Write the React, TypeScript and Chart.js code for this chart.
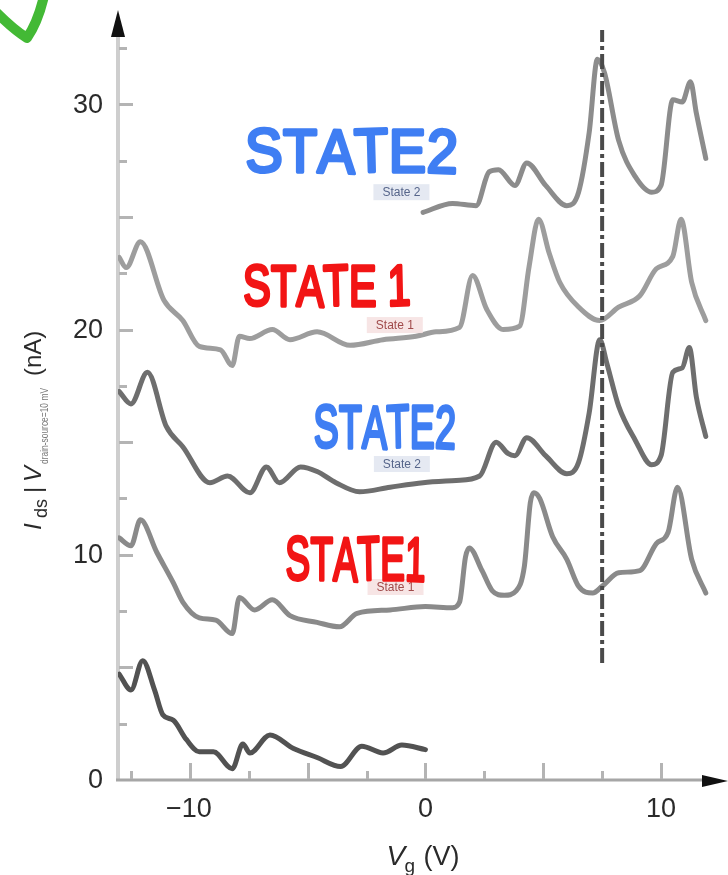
import React, { useEffect, useRef } from "react";
import { Chart, registerables } from "chart.js";

Chart.register(...registerables);

// ---------- axis ranges & tick labels ----------
const X_MIN = -13.05;
const X_MAX = 12.8;
const Y_MIN = 0;
const Y_MAX = 34.1;
const xTickLabels = [-10, 0, 10];
const yTickLabels = [0, 10, 20, 30];
const xMinorTicks = [-12.5, -10, -7.5, -5, -2.5, 0, 2.5, 5, 7.5, 10];
const yMinorTicks = [2.5, 5, 7.5, 10, 12.5, 15, 17.5, 20, 22.5, 25, 27.5, 30, 32.5];

// ---------- series (Vg in V, current in nA) ----------
// top trace: State 2 (upper)
const vgState2Upper = [-0.1, 1.15, 2.15, 2.7, 3.1, 3.8, 4.3, 5.1, 6.0, 6.5, 6.95, 7.3, 7.6, 8.2, 8.9, 9.6, 10.0, 10.5, 10.9, 11.25, 11.5, 11.9];
const idsState2Upper = [25.2, 25.6, 25.5, 27.0, 27.1, 26.4, 27.4, 26.4, 25.5, 26.1, 28.75, 32.0, 31.4, 28.4, 26.8, 26.1, 26.4, 30.2, 30.1, 31.0, 29.6, 27.6];

// State 1 (upper)
const vgState1Upper = [-13.0, -12.7, -12.1, -11.1, -10.3, -9.6, -8.7, -8.2, -7.9, -7.46, -6.5, -5.75, -4.6, -3.2, -1.8, -0.4, 0.45, 1.45, 2.0, 2.6, 3.3, 4.0, 4.4, 4.8, 5.25, 5.7, 6.5, 7.4, 8.2, 9.1, 9.8, 10.5, 10.85, 11.3, 11.9];
const idsState1Upper = [23.2, 22.75, 23.9, 21.3, 20.4, 19.25, 19.1, 18.4, 19.7, 19.6, 20.0, 19.55, 19.9, 19.3, 19.55, 19.7, 19.9, 20.1, 22.4, 20.9, 20.0, 20.15, 22.8, 24.9, 23.4, 22.1, 21.0, 20.4, 21.0, 21.5, 22.7, 23.25, 24.9, 22.1, 20.4];

// State 2 (lower)
const vgState2Lower = [-13.0, -12.5, -11.8, -11.0, -10.3, -9.15, -8.4, -7.45, -6.75, -6.2, -5.3, -4.6, -3.8, -2.8, -1.5, -0.1, 1.3, 2.3, 3.0, 3.5, 3.8, 4.3, 5.1, 6.0, 6.5, 6.95, 7.4, 7.7, 8.2, 8.9, 9.6, 10.0, 10.5, 10.9, 11.2, 11.5, 11.9];
const idsState2Lower = [17.25, 16.7, 18.1, 15.7, 14.8, 13.2, 13.5, 12.75, 13.9, 13.2, 13.9, 13.7, 13.2, 12.8, 13.0, 13.2, 13.3, 13.5, 15.0, 14.5, 14.4, 15.2, 14.4, 13.6, 14.1, 16.3, 19.55, 18.5, 16.6, 15.1, 14.0, 14.4, 18.1, 18.3, 19.2, 17.0, 15.25];

// State 1 (lower)
const vgState1Lower = [-13.0, -12.5, -12.1, -11.4, -10.7, -10.3, -9.6, -8.9, -8.2, -7.9, -7.25, -6.5, -5.75, -4.6, -3.65, -2.9, -1.5, 0, 1.15, 1.45, 1.7, 1.86, 2.4, 2.84, 3.35, 3.85, 4.2, 4.45, 4.6, 4.85, 5.4, 6.0, 6.5, 7.1, 7.5, 8.2, 9.1, 9.8, 10.3, 10.7, 11.3, 11.9];
const idsState1Lower = [10.75, 10.4, 11.55, 10.1, 8.75, 7.9, 7.2, 7.1, 6.5, 8.1, 7.55, 8.0, 7.3, 7.0, 6.8, 7.4, 7.55, 7.7, 7.65, 7.9, 9.9, 10.3, 9.3, 8.4, 8.2, 8.4, 9.5, 12.3, 12.75, 12.5, 10.8, 9.8, 8.6, 8.3, 8.6, 9.2, 9.3, 10.5, 11.0, 13.0, 9.8, 8.3];

// bottom trace
const vgBottom = [-13.0, -12.5, -12.0, -11.5, -11.15, -10.7, -10.15, -9.6, -9.0, -8.2, -7.75, -7.45, -6.6, -5.6, -4.6, -3.6, -2.7, -1.8, -1.0, 0];
const idsBottom = [4.7, 4.0, 5.3, 4.0, 2.9, 2.65, 1.8, 1.25, 1.25, 0.5, 1.6, 1.2, 2.0, 1.4, 1.0, 0.6, 1.5, 1.2, 1.55, 1.35];

// vertical dash-dot marker
const markerVg = [7.5, 7.5];
const markerIds = [5.2, 33.3];

// annotations (data coordinates of left edge / vertical centre)
const handLabels = [
  { text: "STATE2", x: -7.7, y: 27.97, color: "#3f7ef3" },
  { text: "STATE 1", x: -7.8, y: 21.98, color: "#f21515" },
  { text: "STATE2", x: -4.8, y: 15.72, color: "#3f7ef3" },
  { text: "STATE1", x: -6.0, y: 9.86, color: "#f21515" },
];
const handSizes = [
  [215, 48],
  [171, 45],
  [145, 47],
  [143, 48],
];
const smallLabels = [
  { text: "State 2", x: -1.02, y: 26.1, kind: "blue" },
  { text: "State 1", x: -1.3, y: 20.2, kind: "red" },
  { text: "State 2", x: -1.0, y: 14.03, kind: "blue" },
  { text: "State 1", x: -1.27, y: 8.57, kind: "red" },
];

const pairs = (xs: number[], ys: number[]) => xs.map((x, i) => ({ x, y: ys[i] }));

const FONT = "'Liberation Sans', Arial, Helvetica, sans-serif";

const decor = {
  id: "decor",
  beforeDatasetsDraw(chart: any) {
    const { ctx, chartArea: a, scales } = chart;
    const xs = scales.x;
    const ys = scales.y;
    ctx.save();
    // y axis line
    ctx.strokeStyle = "#cecece";
    ctx.lineWidth = 4;
    ctx.beginPath();
    ctx.moveTo(a.left, a.bottom + 1);
    ctx.lineTo(a.left, a.top + 22);
    ctx.stroke();
    // x axis line
    ctx.strokeStyle = "#a6a6a6";
    ctx.lineWidth = 3;
    ctx.beginPath();
    ctx.moveTo(a.left - 2, a.bottom);
    ctx.lineTo(a.right - 22, a.bottom);
    ctx.stroke();

    // y ticks (inward)
    ctx.strokeStyle = "#b4b4b4";
    ctx.lineWidth = 3;
    yMinorTicks.forEach((v) => {
      const py = Math.round(ys.getPixelForValue(v)) + 0.5;
      const len = v % 5 === 0 ? 14 : 8;
      ctx.beginPath();
      ctx.moveTo(a.left + 1, py);
      ctx.lineTo(a.left + 1 + len, py);
      ctx.stroke();
    });
    // x ticks (inward)
    xMinorTicks.forEach((v) => {
      const px = Math.round(xs.getPixelForValue(v)) + 0.5;
      const len = v % 5 === 0 ? 16 : 8;
      ctx.beginPath();
      ctx.moveTo(px, a.bottom - 1);
      ctx.lineTo(px, a.bottom - 1 - len);
      ctx.stroke();
    });

    // arrows
    ctx.fillStyle = "#111";
    ctx.beginPath();
    ctx.moveTo(a.left, a.top - 2);
    ctx.lineTo(a.left - 7, a.top + 25);
    ctx.lineTo(a.left + 7, a.top + 25);
    ctx.closePath();
    ctx.fill();
    ctx.beginPath();
    ctx.moveTo(a.right + 1, a.bottom + 1);
    ctx.lineTo(a.right - 25, a.bottom - 5);
    ctx.lineTo(a.right - 25, a.bottom + 7);
    ctx.closePath();
    ctx.fill();

    // tick labels
    ctx.fillStyle = "#2a2a2a";
    ctx.font = `27px ${FONT}`;
    ctx.textAlign = "right";
    ctx.textBaseline = "middle";
    yTickLabels.forEach((v) => {
      ctx.fillText(String(v), a.left - 15, ys.getPixelForValue(v) + 1);
    });
    ctx.textAlign = "center";
    ctx.textBaseline = "top";
    xTickLabels.forEach((v) => {
      const t = v < 0 ? "\u2212" + Math.abs(v) : String(v);
      ctx.fillText(t, xs.getPixelForValue(v) - (v < 0 ? 1 : 0), a.bottom + 16);
    });

    // x title  V_g (V)
    const cx = xs.getPixelForValue(0);
    ctx.textAlign = "left";
    ctx.textBaseline = "alphabetic";
    ctx.fillStyle = "#2a2a2a";
    ctx.font = `italic 28px ${FONT}`;
    ctx.fillText("V", cx - 39, a.bottom + 85);
    ctx.font = `19px ${FONT}`;
    ctx.fillText("g", cx - 21, a.bottom + 92);
    ctx.font = `27px ${FONT}`;
    ctx.fillText("(V)", cx - 2, a.bottom + 85);

    // y title  I_ds | V_... (nA)
    ctx.save();
    ctx.translate(41, 530);
    ctx.rotate(-Math.PI / 2);
    ctx.fillStyle = "#2a2a2a";
    ctx.font = `italic 24px ${FONT}`;
    ctx.fillText("I", 0, 0);
    ctx.font = `18px ${FONT}`;
    ctx.fillText("ds", 12, 6);
    ctx.font = `24px ${FONT}`;
    ctx.fillText("|", 37, 0);
    ctx.font = `italic 24px ${FONT}`;
    ctx.fillText("V", 48, 0);
    ctx.fillStyle = "#777";
    ctx.font = `10px ${FONT}`;
    ctx.fillText("drain-source=10 mV", 66, 7, 76);
    ctx.fillStyle = "#2a2a2a";
    ctx.font = `24px ${FONT}`;
    ctx.fillText("(nA)", 154, 0);
    ctx.restore();

    ctx.restore();
  },
  afterDatasetsDraw(chart: any) {
    const { ctx, scales } = chart;
    const xs = scales.x;
    const ys = scales.y;
    ctx.save();

    // small printed labels
    smallLabels.forEach((l) => {
      const px = xs.getPixelForValue(l.x);
      const py = ys.getPixelForValue(l.y);
      ctx.fillStyle = l.kind === "blue" ? "rgba(226,231,241,0.9)" : "rgba(246,226,226,0.9)";
      ctx.fillRect(px - 28, py - 8, 56, 16);
      ctx.fillStyle = l.kind === "blue" ? "#56658a" : "#a04a4a";
      ctx.font = `12px ${FONT}`;
      ctx.textAlign = "center";
      ctx.textBaseline = "middle";
      ctx.fillText(l.text, px, py + 1);
    });

    // handwritten-style labels (marker look)
    handLabels.forEach((l, i) => {
      const [w, h] = handSizes[i];
      const left = xs.getPixelForValue(l.x);
      const py = ys.getPixelForValue(l.y);
      const sw = 3.5;
      const capH = h - sw;
      const fs = capH / 0.72;
      ctx.font = `${fs}px ${FONT}`;
      const chars = l.text.split("");
      const widths = chars.map((c) => ctx.measureText(c).width);
      const tw = widths.reduce((s, v) => s + v, 0);
      const gap = (w - sw - tw) / (chars.length - 1);
      const sx = gap < 0 ? (w - sw) / tw : 1;
      const g = gap < 0 ? 0 : gap;
      ctx.save();
      ctx.translate(left + sw / 2, py + capH / 2);
      ctx.scale(sx, 1);
      ctx.textAlign = "left";
      ctx.textBaseline = "alphabetic";
      ctx.lineJoin = "round";
      ctx.lineCap = "round";
      ctx.lineWidth = sw;
      ctx.strokeStyle = l.color;
      ctx.fillStyle = l.color;
      let x = 0;
      chars.forEach((c, k) => {
        const rot = ((k % 3) - 1) * 0.03;
        ctx.save();
        ctx.translate(x, 0);
        ctx.rotate(rot);
        ctx.strokeText(c, 0, 0);
        ctx.fillText(c, 0, 0);
        ctx.restore();
        x += widths[k] + g;
      });
      ctx.restore();
    });

    // green check mark fragment at top-left
    ctx.strokeStyle = "#43b935";
    ctx.lineWidth = 10;
    ctx.lineCap = "round";
    ctx.lineJoin = "round";
    ctx.beginPath();
    ctx.moveTo(-4, 12);
    ctx.quadraticCurveTo(14, 30, 27, 38);
    ctx.quadraticCurveTo(38, 22, 44, -4);
    ctx.stroke();

    ctx.restore();
  },
};

export default function App() {
  const ref = useRef<HTMLCanvasElement | null>(null);
  useEffect(() => {
    if (!ref.current) return;
    const lineDs = (label: string, xs: number[], ys: number[], color: string) => ({
      label,
      data: pairs(xs, ys),
      borderColor: color,
      backgroundColor: color,
      borderWidth: 5,
      pointRadius: 0,
      cubicInterpolationMode: "monotone" as const,
      borderJoinStyle: "round" as const,
      borderCapStyle: "round" as const,
      showLine: true,
      fill: false,
    });
    const chart = new Chart(ref.current, {
      type: "scatter",
      data: {
        datasets: [
          {
            label: "marker",
            data: pairs(markerVg, markerIds),
            borderColor: "#4a4a4a",
            backgroundColor: "#4a4a4a",
            borderWidth: 4,
            borderDash: [15, 4, 4, 4],
            pointRadius: 0,
            showLine: true,
            fill: false,
          },
          lineDs("State 2 upper", vgState2Upper, idsState2Upper, "#8c8c8c"),
          lineDs("State 1 upper", vgState1Upper, idsState1Upper, "#9d9d9d"),
          lineDs("State 2 lower", vgState2Lower, idsState2Lower, "#6e6e6e"),
          lineDs("State 1 lower", vgState1Lower, idsState1Lower, "#8a8a8a"),
          lineDs("bottom", vgBottom, idsBottom, "#525252"),
        ],
      },
      options: {
        responsive: false,
        animation: false,
        events: [],
        layout: { padding: { left: 118, top: 12, right: 1, bottom: 95 } },
        plugins: { legend: { display: false }, tooltip: { enabled: false } },
        scales: {
          x: { type: "linear", min: X_MIN, max: X_MAX, display: false },
          y: { type: "linear", min: Y_MIN, max: Y_MAX, display: false },
        },
      },
      plugins: [decor],
    });
    return () => chart.destroy();
  }, []);
  return (
    <div style={{ position: "absolute", left: 0, top: 0, width: 728, height: 875, background: "#fff" }}>
      <canvas ref={ref} width={728} height={875} style={{ display: "block" }} />
    </div>
  );
}
